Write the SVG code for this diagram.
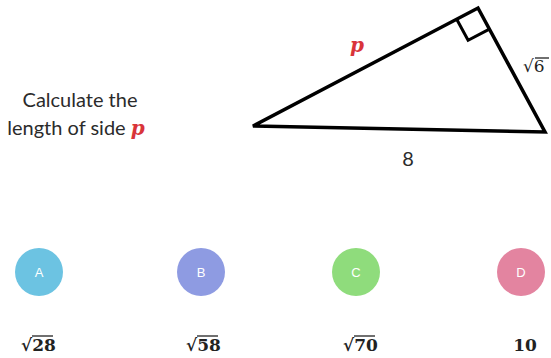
<svg xmlns="http://www.w3.org/2000/svg" width="551" height="358" viewBox="0 0 551 358">
<style>
.q{font-family:Lato,"Open Sans","Liberation Sans",sans-serif;font-size:20px;fill:#2b2b2b}
.m{font-family:"DejaVu Serif","Liberation Serif",serif;fill:#222}
.red{fill:#d9343a;font-style:italic;font-weight:bold}
.opt{font-family:"Liberation Sans",Arial,sans-serif;font-size:13px;fill:#ffffff;text-anchor:middle}
.val{font-family:"DejaVu Serif","Liberation Serif",serif;font-size:17px;fill:#222;font-weight:bold}
.bar{stroke:#222;stroke-width:1.3}
</style>
<rect width="551" height="358" fill="#ffffff"/>
<g id="question">
<text class="q" x="80" y="107" text-anchor="middle">Calculate the</text>
<text class="q" x="76" y="135" text-anchor="middle">length of side <tspan class="m red" font-size="20">p</tspan></text>
</g>
<g id="triangle">
<polygon points="253,126 478,8 545,132" fill="none" stroke="#000" stroke-width="3.5" stroke-linejoin="miter"/>
<polyline points="456.7,19.2 468.1,40.3 489.4,29.1" fill="none" stroke="#000" stroke-width="3"/>
<text class="m red" x="357" y="52" font-size="20" text-anchor="middle">p</text>
<text class="m" x="523" y="72" font-size="17">√6</text>
<line class="bar" x1="535" y1="58" x2="549" y2="58"/>
<text class="q" x="408" y="166" text-anchor="middle" fill="#222" font-size="21">8</text>
</g>
<g id="optA">
<circle cx="39" cy="272" r="24" fill="#6cc3e2"/>
<text class="opt" x="39" y="277">A</text>
<text class="val" x="21" y="351">√28</text>
<line class="bar" x1="32" y1="336" x2="53" y2="336"/>
</g>
<g id="optB">
<circle cx="201" cy="272" r="24" fill="#8e9be2"/>
<text class="opt" x="201" y="277">B</text>
<text class="val" x="186" y="351">√58</text>
<line class="bar" x1="197" y1="336" x2="218" y2="336"/>
</g>
<g id="optC">
<circle cx="356" cy="272" r="24" fill="#8fdc7c"/>
<text class="opt" x="356" y="277">C</text>
<text class="val" x="343" y="351">√70</text>
<line class="bar" x1="354" y1="336" x2="375" y2="336"/>
</g>
<g id="optD">
<circle cx="521" cy="272" r="24" fill="#e384a0"/>
<text class="opt" x="521" y="277">D</text>
<text class="val" x="525" y="351" text-anchor="middle">10</text>
</g>
</svg>
